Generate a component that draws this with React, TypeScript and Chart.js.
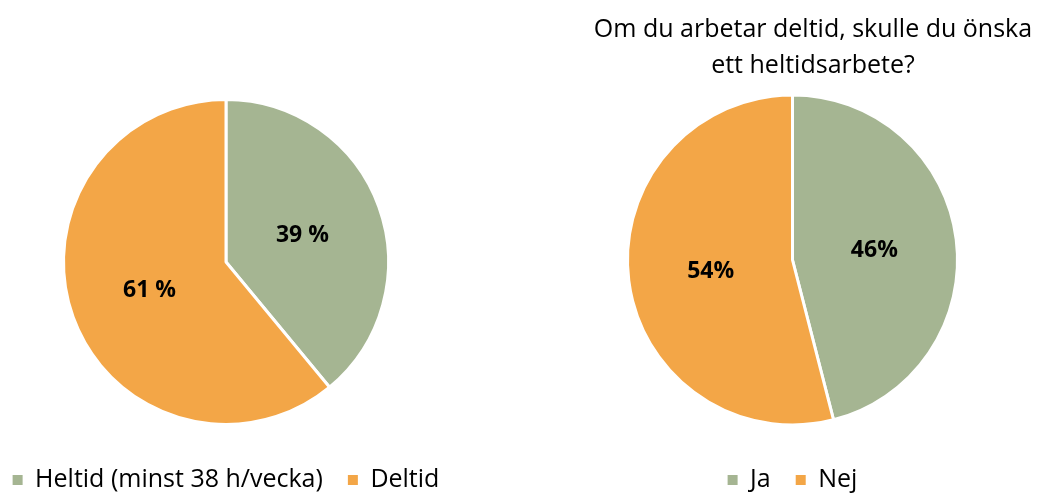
import React, { useEffect, useRef } from "react";
import { Chart, registerables } from "chart.js";

Chart.register(...registerables);

// ---- data ----
const leftCategories = ["Heltid (minst 38 h/vecka)", "Deltid"];
const leftValues = [39, 61];
const leftSuffix = " %";

const rightCategories = ["Ja", "Nej"];
const rightValues = [46, 54];
const rightSuffix = "%";
const rightTitleLines = ["Om du arbetar deltid, skulle du önska", "ett heltidsarbete?"];

const sliceColors = ["#A5B592", "#F3A647"];
const FONT = "'Open Sans', 'Noto Sans', sans-serif";

const sliceLabelPlugin = {
  id: "sliceLabels",
  afterDatasetsDraw(chart: any, _args: any, opts: any) {
    const ctx = chart.ctx;
    const meta = chart.getDatasetMeta(0);
    const values = chart.data.datasets[0].data;
    ctx.save();
    ctx.font = `bold ${opts.size || 23}px ${FONT}`;
    ctx.fillStyle = "#000";
    ctx.textAlign = "center";
    ctx.textBaseline = "middle";
    meta.data.forEach((arc: any, i: number) => {
      const p = arc.getCenterPoint();
      ctx.fillText(`${values[i]}${opts.suffix || ""}`, p.x, p.y + 1);
    });
    ctx.restore();
  },
};

const freeTitlePlugin = {
  id: "freeTitle",
  afterDraw(chart: any, _args: any, opts: any) {
    if (!opts || !opts.lines || !opts.lines.length) return;
    const ctx = chart.ctx;
    ctx.save();
    ctx.font = `${opts.size || 25}px ${FONT}`;
    ctx.fillStyle = "#000";
    ctx.textAlign = "center";
    ctx.textBaseline = "alphabetic";
    opts.lines.forEach((line: string, i: number) => {
      ctx.fillText(line, opts.x, opts.y + i * opts.lineHeight);
    });
    ctx.restore();
  },
};

type PieProps = {
  categories: string[];
  values: number[];
  suffix: string;
  radius: number;
  left: number;
  width: number;
  padTop: number;
  padBottom: number;
  title?: { lines: string[]; x: number; y: number; lineHeight: number; size: number };
};

const CANVAS_H = 520;

function PieChart(props: PieProps) {
  const ref = useRef<HTMLCanvasElement | null>(null);
  useEffect(() => {
    if (!ref.current) return;
    const defaultGen = (Chart as any).overrides.pie.plugins.legend.labels.generateLabels;
    const chart = new Chart(ref.current, {
      type: "pie",
      data: {
        labels: props.categories,
        datasets: [
          {
            data: props.values,
            backgroundColor: sliceColors,
            borderColor: "#FFFFFF",
            borderWidth: 3,
            radius: props.radius,
          } as any,
        ],
      },
      options: {
        animation: false,
        responsive: false,
        maintainAspectRatio: false,
        layout: { padding: { top: props.padTop, bottom: props.padBottom, left: 0, right: 0 } },
        plugins: {
          tooltip: { enabled: false },
          title: { display: false },
          legend: {
            display: true,
            position: "bottom",
            align: "center",
            labels: {
              boxWidth: 10,
              boxHeight: 10,
              padding: 25,
              color: "#000",
              font: { family: FONT, size: 25 },
              generateLabels: (c: any) =>
                defaultGen(c).map((l: any) => ({ ...l, lineWidth: 0, strokeStyle: "rgba(0,0,0,0)" })),
            },
          },
          sliceLabels: { suffix: props.suffix, size: 23 },
          freeTitle: props.title ? props.title : { lines: [] },
        } as any,
      },
      plugins: [sliceLabelPlugin, freeTitlePlugin],
    });
    return () => chart.destroy();
  }, []);
  return (
    <canvas
      ref={ref}
      width={props.width}
      height={CANVAS_H}
      style={{ position: "absolute", left: props.left, top: 0, width: props.width, height: CANVAS_H }}
    />
  );
}

export default function App() {
  const rightLeft = 548;
  return (
    <div
      style={{
        position: "fixed",
        left: 0,
        top: 0,
        width: 1037,
        height: 493,
        overflow: "hidden",
        background: "#fff",
      }}
    >
      <PieChart
        categories={leftCategories}
        values={leftValues}
        suffix={leftSuffix}
        radius={162.5}
        left={-26}
        width={504}
        padTop={81.5}
        padBottom={17.5}
      />
      <PieChart
        categories={rightCategories}
        values={rightValues}
        suffix={rightSuffix}
        radius={165}
        left={rightLeft}
        width={489}
        padTop={77.5}
        padBottom={17.5}
        title={{ lines: rightTitleLines, x: 813 - rightLeft, y: 37, lineHeight: 36, size: 25 }}
      />
    </div>
  );
}
